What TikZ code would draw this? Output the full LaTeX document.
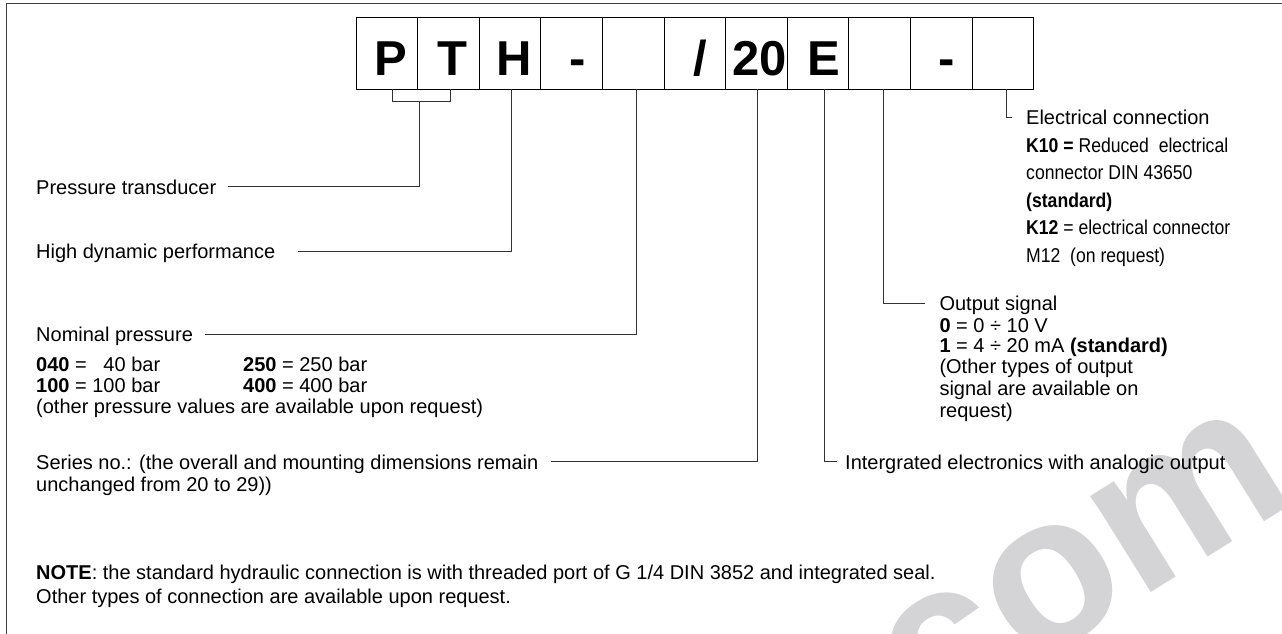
\documentclass[tikz,border=0pt]{standalone}
\usepackage{fontspec}
\setmainfont{Liberation Sans}
\newfontfamily\narrowfont[FakeStretch=0.88]{Liberation Sans}
\definecolor{wm}{RGB}{212,212,215}
\begin{document}
\begin{tikzpicture}[x=1pt,y=-1pt,
  box/.style={draw=black, line width=0.9pt, minimum width=61.6pt, minimum height=72pt, inner sep=0pt, outer sep=0pt},
  code/.style={font=\fontsize{49}{49}\selectfont\bfseries, inner sep=0pt, anchor=base},
  lbl/.style={font=\fontsize{20}{24}\selectfont, anchor=base west, inner sep=0pt},
  nlbl/.style={font=\fontsize{20}{24}\selectfont\narrowfont, anchor=base west, inner sep=0pt},
  conn/.style={line width=0.9pt, draw=black!80},
  frameline/.style={line width=1.8pt, draw=black!75}]
\useasboundingbox (0,0) rectangle (1282,633);
% watermark
\node[font=\fontsize{215}{215}\selectfont\bfseries, text=wm, rotate=32, anchor=base west, inner sep=0pt] (wmark) at (875,765) {.com};
% frame
\draw[frameline] (6.5,640) -- (6.5,3.5) -- (1290,3.5);
% boxes
\node[box] (b1) at (386.8,53.3) {};
\node[box] (b2) at (448.4,53.3) {};
\node[box] (b3) at (510.0,53.3) {};
\node[box] (b4) at (571.6,53.3) {};
\node[box] (b5) at (633.2,53.3) {};
\node[box] (b6) at (694.8,53.3) {};
\node[box] (b7) at (756.4,53.3) {};
\node[box] (b8) at (818.0,53.3) {};
\node[box] (b9) at (879.6,53.3) {};
\node[box] (b10) at (941.2,53.3) {};
\node[box] (b11) at (1002.8,53.3) {};
% codes
\node[code] (cP) at (390.5,75) {P};
\node[code] (cT) at (452.5,75) {T};
\node[code] (cH) at (514,75) {H};
\node[code] (cd1) at (577.5,75) {-};
\node[code] (cs) at (700,75) {/};
\node[code] (c20) at (759.5,75) {20};
\node[code] (cE) at (823.5,75) {E};
\node[code] (cd2) at (947,75) {-};
% left labels
\node[lbl] (pt) at (36,194) {Pressure transducer};
\node[lbl] (hd) at (36,258.3) {High dynamic performance};
\node[lbl] (np) at (36,341.6) {Nominal pressure};
\node[lbl] (r1a) at (36,371) {\textbf{040} = \phantom{0}40 bar};
\node[lbl] (r1b) at (243,371) {\textbf{250} = 250 bar};
\node[lbl] (r2a) at (36,392) {\textbf{100} = 100 bar};
\node[lbl] (r2b) at (243,392) {\textbf{400} = 400 bar};
\node[lbl] (r3) at (36,413) {(other pressure values are available upon request)};
\node[lbl] (sn1) at (36,469) {Series no.: (the overall and mounting dimensions remain};
\node[lbl] (sn2) at (36,491) {unchanged from 20 to 29))};
\node[lbl] (note1) at (36,579) {\textbf{NOTE}: the standard hydraulic connection is with threaded port of G 1/4 DIN 3852 and integrated seal.};
\node[lbl] (note2) at (36,603) {Other types of connection are available upon request.};
% right labels
\node[lbl] (ec) at (1026,124.7) {Electrical connection};
\node[nlbl] (ec2) at (1026,152) {\textbf{K10 =} Reduced~ electrical};
\node[nlbl] (ec3) at (1026,179.7) {connector DIN 43650};
\node[nlbl] (ec4) at (1026,207) {\textbf{(standard)}};
\node[nlbl] (ec5) at (1026,234.7) {\textbf{K12} = electrical connector};
\node[nlbl] (ec6) at (1026,262) {M12~ (on request)};
\node[lbl] (os) at (939.3,310.3) {Output signal};
\node[lbl] (os2) at (939.3,332) {\textbf{0} = 0 ÷ 10 V};
\node[lbl] (os3) at (939.3,352) {\textbf{1} = 4 ÷ 20 mA \textbf{(standard)}};
\node[lbl] (os4) at (939.3,373.7) {(Other types of output};
\node[lbl] (os5) at (939.3,395.3) {signal are available on};
\node[lbl] (os6) at (939.3,417) {request)};
\node[lbl] (ie) at (845,469) {Intergrated electronics with analogic output};
% connectors
\coordinate (ptL) at ([xshift=5.5pt]b1.south);
\coordinate (ptR) at ([xshift=1.9pt]b2.south);
\draw[conn] (ptL) -- ++(0,12.4) coordinate (ptLb) -| (ptR);
\coordinate (ptM) at (419,101.7);
\draw[conn] (ptM) |- ([xshift=12pt,yshift=7.3pt]pt.base east);
\draw[conn] ([xshift=1.7pt]b3.south) |- ([xshift=23pt,yshift=7.3pt]hd.base east);
\draw[conn] ([xshift=3.2pt]b5.south) |- ([xshift=12pt,yshift=7.3pt]np.base east);
\draw[conn] ([xshift=1.5pt]b7.south) |- ([xshift=12pt,yshift=7.3pt]sn1.base east);
\draw[conn] ([xshift=6pt]b8.south) |- ([xshift=-8pt,yshift=7.3pt]ie.base west);
\draw[conn] ([xshift=3.7pt]b9.south) |- ([xshift=-14pt,yshift=7.3pt]os.base west);
\draw[conn] ([xshift=3.2pt]b11.south) |- ([xshift=-14pt,yshift=7.3pt]ec.base west);
\end{tikzpicture}
\end{document}
